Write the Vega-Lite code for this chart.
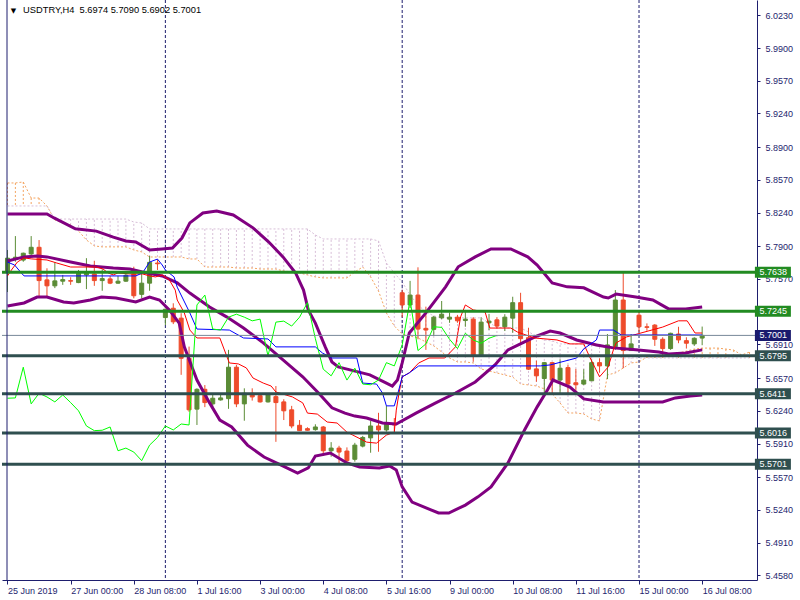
{
"$schema": "https://vega.github.io/schema/vega-lite/v6.json",
"width": 755,
"height": 580,
"autosize": "none",
"padding": {"left": 2, "top": 0, "right": 43, "bottom": 20},
"background": "#FFFFFF",
"config": {"view": {"stroke": null}, "font": "Liberation Sans", "axis": {"grid": false, "labelFont": "Liberation Sans", "labelFontSize": 9, "labelColor": "#1E1E6E", "domainColor": "#1E1E6E", "tickColor": "#1E1E6E", "labelOverlap": false, "labelFlush": false, "labelBound": false}},
"datasets": {
"candles": [
{"i":0,"o":5.7644,"h":5.7863,"l":5.7438,"c":5.7780},
{"i":1,"o":5.7770,"h":5.8003,"l":5.7744,"c":5.7790},
{"i":2,"o":5.7761,"h":5.7836,"l":5.7744,"c":5.7830},
{"i":3,"o":5.7823,"h":5.8003,"l":5.7796,"c":5.7890},
{"i":4,"o":5.7890,"h":5.7963,"l":5.7381,"c":5.7554},
{"i":5,"o":5.7561,"h":5.7678,"l":5.7391,"c":5.7501},
{"i":6,"o":5.7501,"h":5.7738,"l":5.7478,"c":5.7551},
{"i":7,"o":5.7548,"h":5.7611,"l":5.7511,"c":5.7564},
{"i":8,"o":5.7554,"h":5.7588,"l":5.7511,"c":5.7548},
{"i":9,"o":5.7534,"h":5.7661,"l":5.7528,"c":5.7628},
{"i":10,"o":5.7611,"h":5.7780,"l":5.7468,"c":5.7628},
{"i":11,"o":5.7621,"h":5.7754,"l":5.7501,"c":5.7554},
{"i":12,"o":5.7554,"h":5.7668,"l":5.7451,"c":5.7574},
{"i":13,"o":5.7571,"h":5.7601,"l":5.7518,"c":5.7528},
{"i":14,"o":5.7528,"h":5.7601,"l":5.7521,"c":5.7548},
{"i":15,"o":5.7548,"h":5.7634,"l":5.7541,"c":5.7608},
{"i":16,"o":5.7621,"h":5.7694,"l":5.7375,"c":5.7401},
{"i":17,"o":5.7415,"h":5.7628,"l":5.7375,"c":5.7528},
{"i":18,"o":5.7528,"h":5.7803,"l":5.7451,"c":5.7738},
{"i":19,"o":5.7731,"h":5.7768,"l":5.7661,"c":5.7724},
{"i":20,"o":5.7181,"h":5.7270,"l":5.7105,"c":5.7265},
{"i":21,"o":5.7275,"h":5.7325,"l":5.7115,"c":5.7138},
{"i":22,"o":5.7175,"h":5.7225,"l":5.6603,"c":5.6770},
{"i":23,"o":5.6770,"h":5.6888,"l":5.6230,"c":5.6250},
{"i":24,"o":5.6257,"h":5.6467,"l":5.6097,"c":5.6457},
{"i":25,"o":5.6457,"h":5.6500,"l":5.6277,"c":5.6323},
{"i":26,"o":5.6310,"h":5.6400,"l":5.6250,"c":5.6367},
{"i":27,"o":5.6350,"h":5.6407,"l":5.6343,"c":5.6370},
{"i":28,"o":5.6363,"h":5.6855,"l":5.6260,"c":5.6680},
{"i":29,"o":5.6680,"h":5.6703,"l":5.6277,"c":5.6310},
{"i":30,"o":5.6310,"h":5.6467,"l":5.6140,"c":5.6417},
{"i":31,"o":5.6417,"h":5.6467,"l":5.6343,"c":5.6380},
{"i":32,"o":5.6393,"h":5.6410,"l":5.6323,"c":5.6330},
{"i":33,"o":5.6330,"h":5.6410,"l":5.6323,"c":5.6400},
{"i":34,"o":5.6383,"h":5.6490,"l":5.5927,"c":5.6323},
{"i":35,"o":5.6330,"h":5.6357,"l":5.6147,"c":5.6240},
{"i":36,"o":5.6250,"h":5.6290,"l":5.6064,"c":5.6087},
{"i":37,"o":5.6094,"h":5.6147,"l":5.6037,"c":5.6040},
{"i":38,"o":5.6060,"h":5.6074,"l":5.6040,"c":5.6044},
{"i":39,"o":5.6050,"h":5.6104,"l":5.6040,"c":5.6077},
{"i":40,"o":5.6077,"h":5.6087,"l":5.5784,"c":5.5837},
{"i":41,"o":5.5837,"h":5.5924,"l":5.5777,"c":5.5864},
{"i":42,"o":5.5864,"h":5.5887,"l":5.5694,"c":5.5824},
{"i":43,"o":5.5834,"h":5.5871,"l":5.5694,"c":5.5737},
{"i":44,"o":5.5751,"h":5.5917,"l":5.5727,"c":5.5894},
{"i":45,"o":5.5884,"h":5.5987,"l":5.5871,"c":5.5971},
{"i":46,"o":5.5967,"h":5.6137,"l":5.5817,"c":5.6087},
{"i":47,"o":5.6087,"h":5.6220,"l":5.5827,"c":5.6047},
{"i":48,"o":5.6047,"h":5.6290,"l":5.6030,"c":5.6107},
{"i":49,"o":5.6107,"h":5.6167,"l":5.6037,"c":5.6097},
{"i":50,"o":5.7431,"h":5.7458,"l":5.7185,"c":5.7308},
{"i":51,"o":5.7308,"h":5.7551,"l":5.7275,"c":5.7408},
{"i":52,"o":5.7408,"h":5.7688,"l":5.6962,"c":5.7065},
{"i":53,"o":5.7072,"h":5.7291,"l":5.6855,"c":5.7055},
{"i":54,"o":5.7062,"h":5.7198,"l":5.6995,"c":5.7185},
{"i":55,"o":5.7178,"h":5.7348,"l":5.7165,"c":5.7215},
{"i":56,"o":5.7165,"h":5.7231,"l":5.7128,"c":5.7185},
{"i":57,"o":5.7185,"h":5.7208,"l":5.7128,"c":5.7148},
{"i":58,"o":5.7151,"h":5.7258,"l":5.7088,"c":5.7165},
{"i":59,"o":5.7165,"h":5.7185,"l":5.6736,"c":5.6793},
{"i":60,"o":5.6793,"h":5.7185,"l":5.6786,"c":5.7135},
{"i":61,"o":5.7128,"h":5.7218,"l":5.7055,"c":5.7145},
{"i":62,"o":5.7158,"h":5.7185,"l":5.7072,"c":5.7095},
{"i":63,"o":5.7088,"h":5.7215,"l":5.7045,"c":5.7185},
{"i":64,"o":5.7175,"h":5.7391,"l":5.7028,"c":5.7331},
{"i":65,"o":5.7331,"h":5.7431,"l":5.6902,"c":5.6968},
{"i":66,"o":5.6978,"h":5.7078,"l":5.6653,"c":5.6660},
{"i":67,"o":5.6663,"h":5.6746,"l":5.6533,"c":5.6593},
{"i":68,"o":5.6566,"h":5.6733,"l":5.6410,"c":5.6726},
{"i":69,"o":5.6726,"h":5.6733,"l":5.6417,"c":5.6550},
{"i":70,"o":5.6550,"h":5.6760,"l":5.6410,"c":5.6670},
{"i":71,"o":5.6676,"h":5.6703,"l":5.6407,"c":5.6510},
{"i":72,"o":5.6523,"h":5.6663,"l":5.6443,"c":5.6503},
{"i":73,"o":5.6510,"h":5.6660,"l":5.6500,"c":5.6550},
{"i":74,"o":5.6543,"h":5.6760,"l":5.6543,"c":5.6726},
{"i":75,"o":5.6726,"h":5.6770,"l":5.6626,"c":5.6693},
{"i":76,"o":5.6693,"h":5.7015,"l":5.6560,"c":5.6905},
{"i":77,"o":5.6888,"h":5.7458,"l":5.6855,"c":5.7358},
{"i":78,"o":5.7358,"h":5.7634,"l":5.6670,"c":5.6848},
{"i":79,"o":5.6848,"h":5.7015,"l":5.6848,"c":5.6915},
{"i":80,"o":5.7205,"h":5.7238,"l":5.7038,"c":5.7088},
{"i":81,"o":5.7088,"h":5.7122,"l":5.7048,"c":5.7082},
{"i":82,"o":5.7105,"h":5.7115,"l":5.6895,"c":5.6962},
{"i":83,"o":5.6962,"h":5.6982,"l":5.6803,"c":5.6868},
{"i":84,"o":5.6868,"h":5.7028,"l":5.6855,"c":5.7022},
{"i":85,"o":5.7015,"h":5.7088,"l":5.6922,"c":5.6955},
{"i":86,"o":5.6948,"h":5.6982,"l":5.6868,"c":5.6922},
{"i":87,"o":5.6915,"h":5.6982,"l":5.6895,"c":5.6972},
{"i":88,"o":5.6974,"h":5.7090,"l":5.6902,"c":5.7001}
],
"cloud": [
{"i":0,"a":5.8539,"b":5.8307},{"i":1,"a":5.8539,"b":5.8307},{"i":2,"a":5.8549,"b":5.8307},{"i":3,"a":5.8387,"b":5.8307},{"i":4,"a":5.8387,"b":5.8307},{"i":5,"a":5.8307,"b":5.8307},{"i":6,"a":5.8165,"b":5.8175},{"i":7,"a":5.8135,"b":5.8175},{"i":8,"a":5.8115,"b":5.8175},{"i":9,"a":5.8054,"b":5.8175},{"i":10,"a":5.7964,"b":5.8175},{"i":11,"a":5.7904,"b":5.8175},{"i":12,"a":5.7894,"b":5.8175},{"i":13,"a":5.7894,"b":5.8175},{"i":14,"a":5.7894,"b":5.8175},{"i":15,"a":5.7894,"b":5.8175},{"i":16,"a":5.7863,"b":5.8145},{"i":17,"a":5.7843,"b":5.8135},{"i":18,"a":5.7792,"b":5.8075},{"i":19,"a":5.7792,"b":5.8075},{"i":20,"a":5.7792,"b":5.8075},{"i":21,"a":5.7792,"b":5.8075},{"i":22,"a":5.7792,"b":5.8075},{"i":23,"a":5.7772,"b":5.8075},{"i":24,"a":5.7772,"b":5.8075},{"i":25,"a":5.7691,"b":5.8075},{"i":26,"a":5.7691,"b":5.8075},{"i":27,"a":5.7691,"b":5.8075},{"i":28,"a":5.7691,"b":5.8075},{"i":29,"a":5.7681,"b":5.8075},{"i":30,"a":5.7681,"b":5.8075},{"i":31,"a":5.7681,"b":5.8075},{"i":32,"a":5.7671,"b":5.8075},{"i":33,"a":5.7671,"b":5.8075},{"i":34,"a":5.7671,"b":5.8075},{"i":35,"a":5.7651,"b":5.8075},{"i":36,"a":5.7641,"b":5.8075},{"i":37,"a":5.7631,"b":5.8075},{"i":38,"a":5.7611,"b":5.8075},{"i":39,"a":5.7591,"b":5.8014},{"i":40,"a":5.7581,"b":5.7974},{"i":41,"a":5.7581,"b":5.7974},{"i":42,"a":5.7581,"b":5.7974},{"i":43,"a":5.7581,"b":5.7974},{"i":44,"a":5.7641,"b":5.7974},{"i":45,"a":5.7691,"b":5.7974},{"i":46,"a":5.7591,"b":5.7974},{"i":47,"a":5.7449,"b":5.7954},{"i":48,"a":5.7227,"b":5.7732},{"i":49,"a":5.7096,"b":5.7631},{"i":50,"a":5.7015,"b":5.7540},{"i":51,"a":5.6995,"b":5.7409},{"i":52,"a":5.6975,"b":5.7308},{"i":53,"a":5.6935,"b":5.7238},{"i":54,"a":5.6895,"b":5.7198},{"i":55,"a":5.6834,"b":5.7178},{"i":56,"a":5.6773,"b":5.7178},{"i":57,"a":5.6733,"b":5.7178},{"i":58,"a":5.6733,"b":5.7178},{"i":59,"a":5.6723,"b":5.7178},{"i":60,"a":5.6662,"b":5.7178},{"i":61,"a":5.6642,"b":5.7126},{"i":62,"a":5.6622,"b":5.7086},{"i":63,"a":5.6602,"b":5.7076},{"i":64,"a":5.6581,"b":5.7076},{"i":65,"a":5.6511,"b":5.7076},{"i":66,"a":5.6501,"b":5.7036},{"i":67,"a":5.6491,"b":5.6995},{"i":68,"a":5.6461,"b":5.6955},{"i":69,"a":5.6410,"b":5.6945},{"i":70,"a":5.6319,"b":5.6915},{"i":71,"a":5.6218,"b":5.6915},{"i":72,"a":5.6218,"b":5.6915},{"i":73,"a":5.6208,"b":5.6915},{"i":74,"a":5.6158,"b":5.6915},{"i":75,"a":5.6138,"b":5.6915},{"i":76,"a":5.6602,"b":5.6853},{"i":77,"a":5.6622,"b":5.6803},{"i":78,"a":5.6672,"b":5.6773},{"i":79,"a":5.6723,"b":5.6773},{"i":80,"a":5.6733,"b":5.6773},{"i":81,"a":5.6783,"b":5.6773},{"i":82,"a":5.6783,"b":5.6773},{"i":83,"a":5.6783,"b":5.6773},{"i":84,"a":5.6803,"b":5.6773},{"i":85,"a":5.6823,"b":5.6773},{"i":86,"a":5.6843,"b":5.6773},{"i":87,"a":5.6863,"b":5.6773},{"i":88,"a":5.6873,"b":5.6773},{"i":89,"a":5.6873,"b":5.6773},{"i":90,"a":5.6873,"b":5.6773},{"i":91,"a":5.6863,"b":5.6773},{"i":92,"a":5.6853,"b":5.6773},{"i":93,"a":5.6803,"b":5.6773},{"i":94,"a":5.6833,"b":5.6773}
],
"bb": [
{"band":"u","i":0,"v":5.8226},{"band":"u","i":5,"v":5.8226},{"band":"u","i":5.9,"v":5.8186},{"band":"u","i":8.6,"v":5.8076},{"band":"u","i":11.25,"v":5.8053},{"band":"u","i":13.4,"v":5.7993},{"band":"u","i":15,"v":5.7953},{"band":"u","i":16.25,"v":5.7943},{"band":"u","i":18,"v":5.7863},{"band":"u","i":19.6,"v":5.7873},{"band":"u","i":20.9,"v":5.7883},{"band":"u","i":22.1,"v":5.7983},{"band":"u","i":23.1,"v":5.8136},{"band":"u","i":24.75,"v":5.8236},{"band":"u","i":26.5,"v":5.8256},{"band":"u","i":28.6,"v":5.8216},{"band":"u","i":31.1,"v":5.8086},{"band":"u","i":33.1,"v":5.7943},{"band":"u","i":34.9,"v":5.7793},{"band":"u","i":36.5,"v":5.7631},{"band":"u","i":37.5,"v":5.7458},{"band":"u","i":38.1,"v":5.7258},{"band":"u","i":39,"v":5.7125},{"band":"u","i":40.25,"v":5.6885},{"band":"u","i":41.1,"v":5.6733},{"band":"u","i":41.9,"v":5.6683},{"band":"u","i":43.4,"v":5.6653},{"band":"u","i":45.9,"v":5.6603},{"band":"u","i":48,"v":5.6520},{"band":"u","i":48.75,"v":5.6490},{"band":"u","i":49.4,"v":5.6551},{"band":"u","i":50,"v":5.6723},{"band":"u","i":50.9,"v":5.7025},{"band":"u","i":53,"v":5.7228},{"band":"u","i":55.5,"v":5.7491},{"band":"u","i":57.1,"v":5.7693},{"band":"u","i":59.25,"v":5.7793},{"band":"u","i":61.25,"v":5.7873},{"band":"u","i":63.75,"v":5.7873},{"band":"u","i":65.9,"v":5.7793},{"band":"u","i":67.1,"v":5.7711},{"band":"u","i":69,"v":5.7531},{"band":"u","i":70.9,"v":5.7491},{"band":"u","i":73,"v":5.7481},{"band":"u","i":75.5,"v":5.7388},{"band":"u","i":76.1,"v":5.7378},{"band":"u","i":77.1,"v":5.7418},{"band":"u","i":79.6,"v":5.7388},{"band":"u","i":81.75,"v":5.7358},{"band":"u","i":83.75,"v":5.7268},{"band":"u","i":85.9,"v":5.7268},{"band":"u","i":88,"v":5.7288},
{"band":"m","i":0,"v":5.7751},{"band":"m","i":2.1,"v":5.7793},{"band":"m","i":3.75,"v":5.7803},{"band":"m","i":5,"v":5.7793},{"band":"m","i":8,"v":5.7741},{"band":"m","i":10.5,"v":5.7701},{"band":"m","i":13.4,"v":5.7681},{"band":"m","i":15.5,"v":5.7671},{"band":"m","i":17.1,"v":5.7641},{"band":"m","i":19.6,"v":5.7601},{"band":"m","i":21.5,"v":5.7531},{"band":"m","i":23.1,"v":5.7428},{"band":"m","i":25.6,"v":5.7288},{"band":"m","i":27.75,"v":5.7188},{"band":"m","i":29.9,"v":5.7075},{"band":"m","i":32.4,"v":5.6925},{"band":"m","i":34.9,"v":5.6753},{"band":"m","i":37.4,"v":5.6583},{"band":"m","i":39.4,"v":5.6420},{"band":"m","i":41.1,"v":5.6270},{"band":"m","i":42.75,"v":5.6217},{"band":"m","i":44,"v":5.6187},{"band":"m","i":45.5,"v":5.6167},{"band":"m","i":47.5,"v":5.6117},{"band":"m","i":49.25,"v":5.6107},{"band":"m","i":51.75,"v":5.6217},{"band":"m","i":54.25,"v":5.6320},{"band":"m","i":56.75,"v":5.6420},{"band":"m","i":59.25,"v":5.6531},{"band":"m","i":61.75,"v":5.6703},{"band":"m","i":63.4,"v":5.6855},{"band":"m","i":65.5,"v":5.6935},{"band":"m","i":67.1,"v":5.6995},{"band":"m","i":68.75,"v":5.7045},{"band":"m","i":70,"v":5.7025},{"band":"m","i":72.1,"v":5.6955},{"band":"m","i":74.6,"v":5.6905},{"band":"m","i":76.75,"v":5.6875},{"band":"m","i":79.6,"v":5.6855},{"band":"m","i":82.5,"v":5.6833},{"band":"m","i":83.75,"v":5.6813},{"band":"m","i":85.9,"v":5.6823},{"band":"m","i":88,"v":5.6855},
{"band":"l","i":0,"v":5.7298},{"band":"l","i":2.1,"v":5.7328},{"band":"l","i":3.75,"v":5.7388},{"band":"l","i":5,"v":5.7388},{"band":"l","i":7.1,"v":5.7338},{"band":"l","i":8.4,"v":5.7328},{"band":"l","i":10.5,"v":5.7358},{"band":"l","i":11.9,"v":5.7388},{"band":"l","i":13.75,"v":5.7378},{"band":"l","i":16.25,"v":5.7338},{"band":"l","i":18,"v":5.7388},{"band":"l","i":19.25,"v":5.7358},{"band":"l","i":20.5,"v":5.7258},{"band":"l","i":21.75,"v":5.7125},{"band":"l","i":22.4,"v":5.6885},{"band":"l","i":24,"v":5.6551},{"band":"l","i":25.6,"v":5.6320},{"band":"l","i":26.9,"v":5.6147},{"band":"l","i":28.4,"v":5.6077},{"band":"l","i":30.4,"v":5.5894},{"band":"l","i":32.5,"v":5.5774},{"band":"l","i":34.6,"v":5.5694},{"band":"l","i":36.75,"v":5.5612},{"band":"l","i":38.1,"v":5.5664},{"band":"l","i":39,"v":5.5784},{"band":"l","i":40.9,"v":5.5814},{"band":"l","i":43,"v":5.5714},{"band":"l","i":44.6,"v":5.5674},{"band":"l","i":47.1,"v":5.5664},{"band":"l","i":48.4,"v":5.5684},{"band":"l","i":49.25,"v":5.5644},{"band":"l","i":50,"v":5.5472},{"band":"l","i":51.25,"v":5.5319},{"band":"l","i":54.6,"v":5.5209},{"band":"l","i":55.9,"v":5.5209},{"band":"l","i":58,"v":5.5289},{"band":"l","i":59.6,"v":5.5372},{"band":"l","i":61.25,"v":5.5472},{"band":"l","i":63.4,"v":5.5714},{"band":"l","i":65.5,"v":5.6047},{"band":"l","i":67.1,"v":5.6280},{"band":"l","i":68.4,"v":5.6450},{"band":"l","i":69.1,"v":5.6551},{"band":"l","i":71.25,"v":5.6480},{"band":"l","i":73,"v":5.6360},{"band":"l","i":75.5,"v":5.6330},{"band":"l","i":79.6,"v":5.6330},{"band":"l","i":83,"v":5.6330},{"band":"l","i":84.6,"v":5.6370},{"band":"l","i":86.5,"v":5.6390},{"band":"l","i":88,"v":5.6400}
],
"tenkan": [
{"i":0,"v":5.7601},{"i":0.5,"v":5.7661},{"i":1.25,"v":5.7741},{"i":2.1,"v":5.7783},{"i":3,"v":5.7773},{"i":5,"v":5.7762},{"i":6.25,"v":5.7731},{"i":8,"v":5.7691},{"i":11.25,"v":5.7691},{"i":12.1,"v":5.7671},{"i":12.75,"v":5.7631},{"i":13.4,"v":5.7611},{"i":14,"v":5.7631},{"i":15.5,"v":5.7621},{"i":17.1,"v":5.7621},{"i":18,"v":5.7601},{"i":18.75,"v":5.7591},{"i":19.6,"v":5.7611},{"i":20.5,"v":5.7561},{"i":21.25,"v":5.7458},{"i":21.5,"v":5.7358},{"i":22.4,"v":5.7228},{"i":23.1,"v":5.7055},{"i":24,"v":5.6975},{"i":26.9,"v":5.6975},{"i":28.1,"v":5.6723},{"i":29.25,"v":5.6713},{"i":30.25,"v":5.6673},{"i":31.1,"v":5.6571},{"i":32.4,"v":5.6520},{"i":33.4,"v":5.6490},{"i":34,"v":5.6430},{"i":36.1,"v":5.6380},{"i":37.4,"v":5.6320},{"i":38,"v":5.6217},{"i":39.25,"v":5.6207},{"i":40.5,"v":5.6127},{"i":41.75,"v":5.6117},{"i":43,"v":5.6025},{"i":43.75,"v":5.5995},{"i":45.5,"v":5.5924},{"i":46.75,"v":5.5914},{"i":48,"v":5.5995},{"i":49,"v":5.6025},{"i":49.25,"v":5.6247},{"i":49.6,"v":5.6420},{"i":50,"v":5.6583},{"i":50.9,"v":5.6623},{"i":52.1,"v":5.6723},{"i":53.4,"v":5.6773},{"i":55.4,"v":5.6773},{"i":56.75,"v":5.6885},{"i":57.4,"v":5.7188},{"i":58,"v":5.7308},{"i":59,"v":5.7258},{"i":60.5,"v":5.7238},{"i":61.1,"v":5.7075},{"i":63.75,"v":5.7075},{"i":64.6,"v":5.7035},{"i":66.75,"v":5.6975},{"i":69.6,"v":5.6955},{"i":71.25,"v":5.6915},{"i":73,"v":5.6915},{"i":73.75,"v":5.6783},{"i":75,"v":5.6583},{"i":76.1,"v":5.6683},{"i":76.75,"v":5.6855},{"i":77.1,"v":5.6925},{"i":78.4,"v":5.6985},{"i":83,"v":5.7085},{"i":85,"v":5.7148},{"i":86.1,"v":5.7148},{"i":87.1,"v":5.7025},{"i":88,"v":5.7025}
],
"kijun": [
{"i":0,"v":5.7741},{"i":0.9,"v":5.7711},{"i":1.75,"v":5.7631},{"i":2.1,"v":5.7601},{"i":16.25,"v":5.7601},{"i":17.1,"v":5.7631},{"i":18,"v":5.7741},{"i":19,"v":5.7771},{"i":19.6,"v":5.7711},{"i":20,"v":5.7661},{"i":21.1,"v":5.7591},{"i":21.5,"v":5.7488},{"i":22.3,"v":5.7358},{"i":23.1,"v":5.7228},{"i":24,"v":5.7065},{"i":28.1,"v":5.7055},{"i":29.9,"v":5.6975},{"i":33,"v":5.6965},{"i":34,"v":5.6885},{"i":39,"v":5.6885},{"i":39.9,"v":5.6823},{"i":41.1,"v":5.6773},{"i":44.25,"v":5.6773},{"i":45,"v":5.6520},{"i":46.75,"v":5.6510},{"i":47.5,"v":5.6420},{"i":48,"v":5.6290},{"i":49,"v":5.6290},{"i":49.6,"v":5.6460},{"i":50,"v":5.6583},{"i":50.9,"v":5.6623},{"i":51.75,"v":5.6673},{"i":52.1,"v":5.6693},{"i":67.5,"v":5.6693},{"i":68.75,"v":5.6703},{"i":72.1,"v":5.6773},{"i":73,"v":5.6865},{"i":74.6,"v":5.6955},{"i":75,"v":5.7055},{"i":76.75,"v":5.7055},{"i":77.75,"v":5.7005},{"i":88,"v":5.7005}
],
"chikou": [
{"i":0,"v":5.6367},{"i":1,"v":5.6370},{"i":2,"v":5.6680},{"i":3,"v":5.6310},{"i":4,"v":5.6417},{"i":5,"v":5.6380},{"i":6,"v":5.6330},{"i":7,"v":5.6400},{"i":8,"v":5.6323},{"i":9,"v":5.6240},{"i":10,"v":5.6087},{"i":11,"v":5.6040},{"i":12,"v":5.6044},{"i":13,"v":5.6077},{"i":14,"v":5.5837},{"i":15,"v":5.5864},{"i":16,"v":5.5824},{"i":17,"v":5.5737},{"i":18,"v":5.5894},{"i":19,"v":5.5971},{"i":20,"v":5.6087},{"i":21,"v":5.6047},{"i":22,"v":5.6107},{"i":23,"v":5.6097},{"i":24,"v":5.7308},{"i":25,"v":5.7408},{"i":26,"v":5.7065},{"i":27,"v":5.7055},{"i":28,"v":5.7185},{"i":29,"v":5.7215},{"i":30,"v":5.7185},{"i":31,"v":5.7148},{"i":32,"v":5.7165},{"i":33,"v":5.6793},{"i":34,"v":5.7135},{"i":35,"v":5.7145},{"i":36,"v":5.7095},{"i":37,"v":5.7185},{"i":38,"v":5.7331},{"i":39,"v":5.6968},{"i":40,"v":5.6660},{"i":41,"v":5.6593},{"i":42,"v":5.6726},{"i":43,"v":5.6550},{"i":44,"v":5.6670},{"i":45,"v":5.6510},{"i":46,"v":5.6503},{"i":47,"v":5.6550},{"i":48,"v":5.6726},{"i":49,"v":5.6693},{"i":50,"v":5.6905},{"i":51,"v":5.7358},{"i":52,"v":5.6848},{"i":53,"v":5.6915},{"i":54,"v":5.7088},{"i":55,"v":5.7082},{"i":56,"v":5.6962},{"i":57,"v":5.6868},{"i":58,"v":5.7022},{"i":59,"v":5.6955},{"i":60,"v":5.6922},{"i":61,"v":5.6972},{"i":62,"v":5.7001}
],
"seps": [{"i":20},{"i":50},{"i":80}],
"levels": [{"p":5.7638,"k":"r"},{"p":5.7245,"k":"r"},{"p":5.6795,"k":"s"},{"p":5.6411,"k":"s"},{"p":5.6016,"k":"s"},{"p":5.5701,"k":"s"}],
"current": [{"p":5.7001}]
},
"layer": [
{"data": {"name": "cloud"},
 "mark": {"type": "rule", "strokeDash": [2, 2], "strokeWidth": 1, "clip": true},
 "encoding": {
  "x": {"field": "i", "type": "quantitative", "title": null, "scale": {"domain": [-0.0625, 94.3125], "nice": false, "zero": false},
        "axis": {"orient": "bottom", "title": null, "values": [0,8,16,24,32,40,48,56,64,72,80,88], "tickCount": 100,
                 "labelExpr": "['25 Jun 2019','27 Jun 00:00','28 Jun 08:00','1 Jul 16:00','3 Jul 00:00','4 Jul 08:00','5 Jul 16:00','9 Jul 00:00','10 Jul 08:00','11 Jul 16:00','15 Jul 00:00','16 Jul 08:00'][round(datum.value/8)]",
                 "labelAlign": "left", "labelBaseline": "top", "labelPadding": 2, "tickSize": 4, "labelFlush": false, "labelOverlap": false, "labelBound": false}},
  "y": {"field": "a", "type": "quantitative", "title": null, "scale": {"domain": [5.4533, 6.0385], "nice": false, "zero": false},
        "axis": {"orient": "right", "title": null, "values": [6.023,5.99,5.957,5.924,5.89,5.857,5.824,5.79,5.757,5.691,5.657,5.624,5.591,5.557,5.524,5.491,5.458], "tickCount": 100,
                 "format": ".4f", "tickSize": 3, "labelPadding": 5, "labelBaseline": "middle", "labelAlign": "left", "labelFlush": false, "labelOverlap": false, "labelBound": false}},
  "y2": {"field": "b"},
  "color": {"condition": {"test": "datum.a > datum.b", "value": "#F4A460"}, "value": "#D8BFD8"}
 }},
{"data": {"name": "cloud"},
 "mark": {"type": "line", "strokeDash": [2, 2], "strokeWidth": 1, "color": "#F4A460", "clip": true},
 "encoding": {"x": {"field": "i", "type": "quantitative", "title": null}, "y": {"field": "a", "type": "quantitative", "title": null}}},
{"data": {"name": "cloud"},
 "mark": {"type": "line", "strokeDash": [2, 2], "strokeWidth": 1, "color": "#D8BFD8", "clip": true},
 "encoding": {"x": {"field": "i", "type": "quantitative", "title": null}, "y": {"field": "b", "type": "quantitative", "title": null}}},
{"data": {"name": "seps"},
 "mark": {"type": "rule", "strokeDash": [3, 2], "strokeWidth": 1, "color": "#1E1E6E"},
 "encoding": {"x": {"field": "i", "type": "quantitative", "title": null}}},
{"data": {"name": "candles"},
 "mark": {"type": "rule", "strokeWidth": 1},
 "encoding": {"x": {"field": "i", "type": "quantitative", "title": null}, "y": {"field": "l", "type": "quantitative", "title": null}, "y2": {"field": "h"},
  "color": {"condition": {"test": "datum.c >= datum.o", "value": "#5B8C36"}, "value": "#EE4B2B"}}},
{"data": {"name": "candles"},
 "mark": {"type": "bar", "size": 4, "strokeWidth": 1},
 "encoding": {"x": {"field": "i", "type": "quantitative", "title": null}, "y": {"field": "o", "type": "quantitative", "title": null}, "y2": {"field": "c"},
  "color": {"condition": {"test": "datum.c >= datum.o", "value": "#5B8C36"}, "value": "#EE4B2B"},
  "stroke": {"condition": {"test": "datum.c >= datum.o", "value": "#5B8C36"}, "value": "#EE4B2B"}}},
{"data": {"name": "bb"},
 "mark": {"type": "line", "strokeWidth": 3, "color": "#800080", "clip": true},
 "encoding": {"x": {"field": "i", "type": "quantitative", "title": null}, "y": {"field": "v", "type": "quantitative", "title": null}, "detail": {"field": "band"}}},
{"data": {"name": "tenkan"},
 "mark": {"type": "line", "strokeWidth": 1, "color": "#FF0000", "clip": true},
 "encoding": {"x": {"field": "i", "type": "quantitative", "title": null}, "y": {"field": "v", "type": "quantitative", "title": null}}},
{"data": {"name": "kijun"},
 "mark": {"type": "line", "strokeWidth": 1, "color": "#0000FF", "clip": true},
 "encoding": {"x": {"field": "i", "type": "quantitative", "title": null}, "y": {"field": "v", "type": "quantitative", "title": null}}},
{"data": {"name": "chikou"},
 "mark": {"type": "line", "strokeWidth": 1, "color": "#00FF00", "clip": true},
 "encoding": {"x": {"field": "i", "type": "quantitative", "title": null}, "y": {"field": "v", "type": "quantitative", "title": null}}},
{"data": {"name": "current"},
 "mark": {"type": "rule", "strokeWidth": 1, "color": "#778899"},
 "encoding": {"y": {"field": "p", "type": "quantitative", "title": null}}},
{"data": {"name": "levels"},
 "mark": {"type": "rule", "strokeWidth": 3},
 "encoding": {"y": {"field": "p", "type": "quantitative", "title": null},
  "color": {"field": "k", "type": "nominal", "scale": {"domain": ["r", "s"], "range": ["#228B22", "#2F4F4F"]}, "legend": null}}},
{"data": {"name": "levels"},
 "mark": {"type": "tick", "orient": "horizontal", "size": 36, "thickness": 11, "opacity": 1},
 "encoding": {"x": {"datum": 96.96, "type": "quantitative", "title": null}, "y": {"field": "p", "type": "quantitative", "title": null},
  "color": {"field": "k", "type": "nominal", "scale": {"domain": ["r", "s"], "range": ["#228B22", "#2F4F4F"]}, "legend": null}}},
{"data": {"name": "current"},
 "mark": {"type": "tick", "orient": "horizontal", "size": 36, "thickness": 11, "opacity": 1, "color": "#1A1A6E"},
 "encoding": {"x": {"datum": 96.96, "type": "quantitative", "title": null}, "y": {"field": "p", "type": "quantitative", "title": null}}},
{"data": {"name": "levels"},
 "mark": {"type": "text", "align": "left", "baseline": "middle", "color": "#FFFFFF", "font": "Liberation Sans", "fontSize": 9},
 "encoding": {"x": {"datum": 95.25, "type": "quantitative", "title": null}, "y": {"field": "p", "type": "quantitative", "title": null}, "text": {"field": "p", "type": "quantitative", "format": ".4f"}}},
{"data": {"name": "current"},
 "mark": {"type": "text", "align": "left", "baseline": "middle", "color": "#FFFFFF", "font": "Liberation Sans", "fontSize": 9},
 "encoding": {"x": {"datum": 95.25, "type": "quantitative", "title": null}, "y": {"field": "p", "type": "quantitative", "title": null}, "text": {"field": "p", "type": "quantitative", "format": ".4f"}}},
{"data": {"values": [{}]},
 "mark": {"type": "rule", "strokeWidth": 1, "color": "#1E1E6E"},
 "encoding": {"x": {"datum": -0.0625, "type": "quantitative", "title": null}}},
{"data": {"values": [{}]},
 "mark": {"type": "text", "align": "center", "baseline": "middle", "color": "#000000", "font": "DejaVu Sans", "fontSize": 7},
 "encoding": {"x": {"datum": 0.75, "type": "quantitative", "title": null}, "y": {"datum": 6.0275, "type": "quantitative", "title": null}, "text": {"value": "▼"}}},
{"data": {"values": [{}]},
 "mark": {"type": "text", "align": "left", "baseline": "middle", "color": "#000000", "font": "Liberation Sans", "fontSize": 9.3},
 "encoding": {"x": {"datum": 1.98, "type": "quantitative", "title": null}, "y": {"datum": 6.0281, "type": "quantitative", "title": null}, "text": {"value": "USDTRY,H4\u00a0 5.6974 5.7090 5.6902 5.7001"}}}
]
}
